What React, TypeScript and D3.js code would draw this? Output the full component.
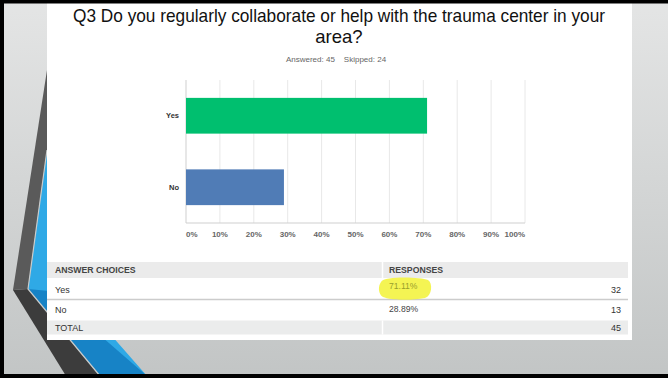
import React from "react";
import * as d3 from "d3";

const categories = ["Yes", "No"];
const percents = [71.11, 28.89];
const counts = [32, 13];
const percentLabels = ["71.11%", "28.89%"];
const xTicks = [0, 10, 20, 30, 40, 50, 60, 70, 80, 90, 100];
const barColors = ["#00bf6f", "#507cb6"];
const answered = 45;
const skipped = 24;
const total = 45;

const W = 668;
const H = 378;
const FONT = "'Liberation Sans', Arial, sans-serif";

export default function App() {
  const x = d3.scaleLinear().domain([0, 100]).range([186, 525]);
  const y = d3
    .scaleBand<string>()
    .domain(categories)
    .range([80, 223])
    .paddingInner(0.5)
    .paddingOuter(0.25);

  const line = d3.line();

  return (
    <div style={{ position: "fixed", left: 0, top: 0, width: W, height: H }}>
      <svg width={W} height={H} style={{ display: "block" }}>
        <defs>
          <linearGradient id="bg" x1="0" y1="0" x2="0" y2="1">
            <stop offset="0" stopColor="#e4e5e5" />
            <stop offset="1" stopColor="#c2c5c5" />
          </linearGradient>
          <clipPath id="respClip">
            <rect x={380} y={266.6} width={80} height={10} />
          </clipPath>
        </defs>
        <rect x={0} y={0} width={W} height={H} fill="url(#bg)" />

        {/* decorative chevron */}
        <path d={line([[47, 150], [28, 289], [100, 376], [147, 376], [47, 262]])! + "Z"} fill="#2fa9e6" />
        <path d={line([[28, 289], [100, 376], [147, 376], [49, 291]])! + "Z"} fill="#1783c6" />
        <path d={line([[47, 70], [13, 290], [28, 289], [47, 150]])! + "Z"} fill="#5a5a5a" />
        <path d={line([[13, 290], [66, 376], [100, 376], [28, 289]])! + "Z"} fill="#3c3c3c" />
        <path d={line([[47, 150], [28, 289], [100, 376]])!} fill="none" stroke="#c9cccc" strokeWidth={1.2} />

        {/* white slide panel */}
        <rect x={47} y={3} width={585} height={337} fill="#ffffff" />

        {/* title */}
        <text x={339} y={22} textAnchor="middle" fontFamily={FONT} fontSize={18.5} fill="#111"
          textLength={532} lengthAdjust="spacingAndGlyphs">
          Q3 Do you regularly collaborate or help with the trauma center in your
        </text>
        <text x={339} y={43} textAnchor="middle" fontFamily={FONT} fontSize={18.5} fill="#111">
          area?
        </text>
        <text x={336} y={62} textAnchor="middle" fontFamily={FONT} fontSize={8} fill="#666">
          {`Answered: ${answered}`}
          <tspan dx={9}>{`Skipped: ${skipped}`}</tspan>
        </text>

        {/* gridlines */}
        {xTicks.map((t) => (
          <line key={t} x1={x(t)} x2={x(t)} y1={80} y2={223} stroke={t === 0 ? "#cfcfcf" : "#e8e8e8"} strokeWidth={1} />
        ))}
        <line x1={x(0)} x2={x(100)} y1={223} y2={223} stroke="#cfcfcf" strokeWidth={1.2} />

        {/* bars */}
        {categories.map((c, i) => (
          <rect
            key={c}
            x={x(0)}
            y={y(c)!}
            width={x(percents[i]) - x(0)}
            height={y.bandwidth()}
            fill={barColors[i]}
          />
        ))}
        {categories.map((c) => (
          <text
            key={c}
            x={179}
            y={y(c)! + y.bandwidth() / 2 + 2.5}
            textAnchor="end"
            fontFamily={FONT}
            fontSize={7.5}
            fontWeight="bold"
            fill="#333"
          >
            {c}
          </text>
        ))}

        {/* tick labels */}
        {xTicks.map((t, i) => (
          <text
            key={t}
            x={x(t)}
            y={237}
            textAnchor={i === 0 ? "start" : i === xTicks.length - 1 ? "end" : "middle"}
            fontFamily={FONT}
            fontSize={8}
            fontWeight="bold"
            fill="#666"
          >
            {`${t}%`}
          </text>
        ))}

        {/* table */}
        <rect x={47} y={262} width={581} height={16} fill="#ebebeb" />
        <rect x={47} y={320.5} width={581} height={14} fill="#ebecec" />
        <line x1={382.5} x2={382.5} y1={262} y2={278} stroke="#ffffff" strokeWidth={1.5} />
        <line x1={382.5} x2={382.5} y1={320.5} y2={334.5} stroke="#ffffff" strokeWidth={1.5} />
        <line x1={47} x2={628} y1={299.5} y2={299.5} stroke="#cccccc" strokeWidth={1.3} />

        <text x={55} y={273} fontFamily={FONT} fontSize={8.7} fontWeight="bold" fill="#444">
          ANSWER CHOICES
        </text>
        <text x={389} y={272.5} fontFamily={FONT} fontSize={8.7} fontWeight="bold" fill="#444" clipPath="url(#respClip)">
          RESPONSES
        </text>

        {/* highlight */}
        <path
          d="M381,282 C384,276 420,277 428,280 C433,283 432,296 425,298 C410,301 390,300 383,297 C378,294 378,286 381,282 Z"
          fill="#f3f340"
          opacity={0.9}
        />

        {categories.map((c, i) => (
          <g key={c}>
            <text x={55} y={293 + i * 20} fontFamily={FONT} fontSize={9} fill="#333">
              {c}
            </text>
            <text
              x={389}
              y={288.5 + i * 23}
              fontFamily={FONT}
              fontSize={8.6}
              fill={i === 0 ? "#9a9f2c" : "#444"}
            >
              {percentLabels[i]}
            </text>
            <text x={621} y={293 + i * 20} textAnchor="end" fontFamily={FONT} fontSize={9} fill="#333">
              {counts[i]}
            </text>
          </g>
        ))}
        <text x={55} y={331} fontFamily={FONT} fontSize={9} fill="#333">
          TOTAL
        </text>
        <text x={621} y={331} textAnchor="end" fontFamily={FONT} fontSize={9} fill="#333">
          {total}
        </text>

        {/* black frame */}
        <rect x={0} y={0} width={W} height={3.5} fill="#000" />
        <rect x={0} y={0} width={4} height={H} fill="#000" />
        <rect x={0} y={374} width={W} height={4} fill="#000" />
      </svg>
    </div>
  );
}
